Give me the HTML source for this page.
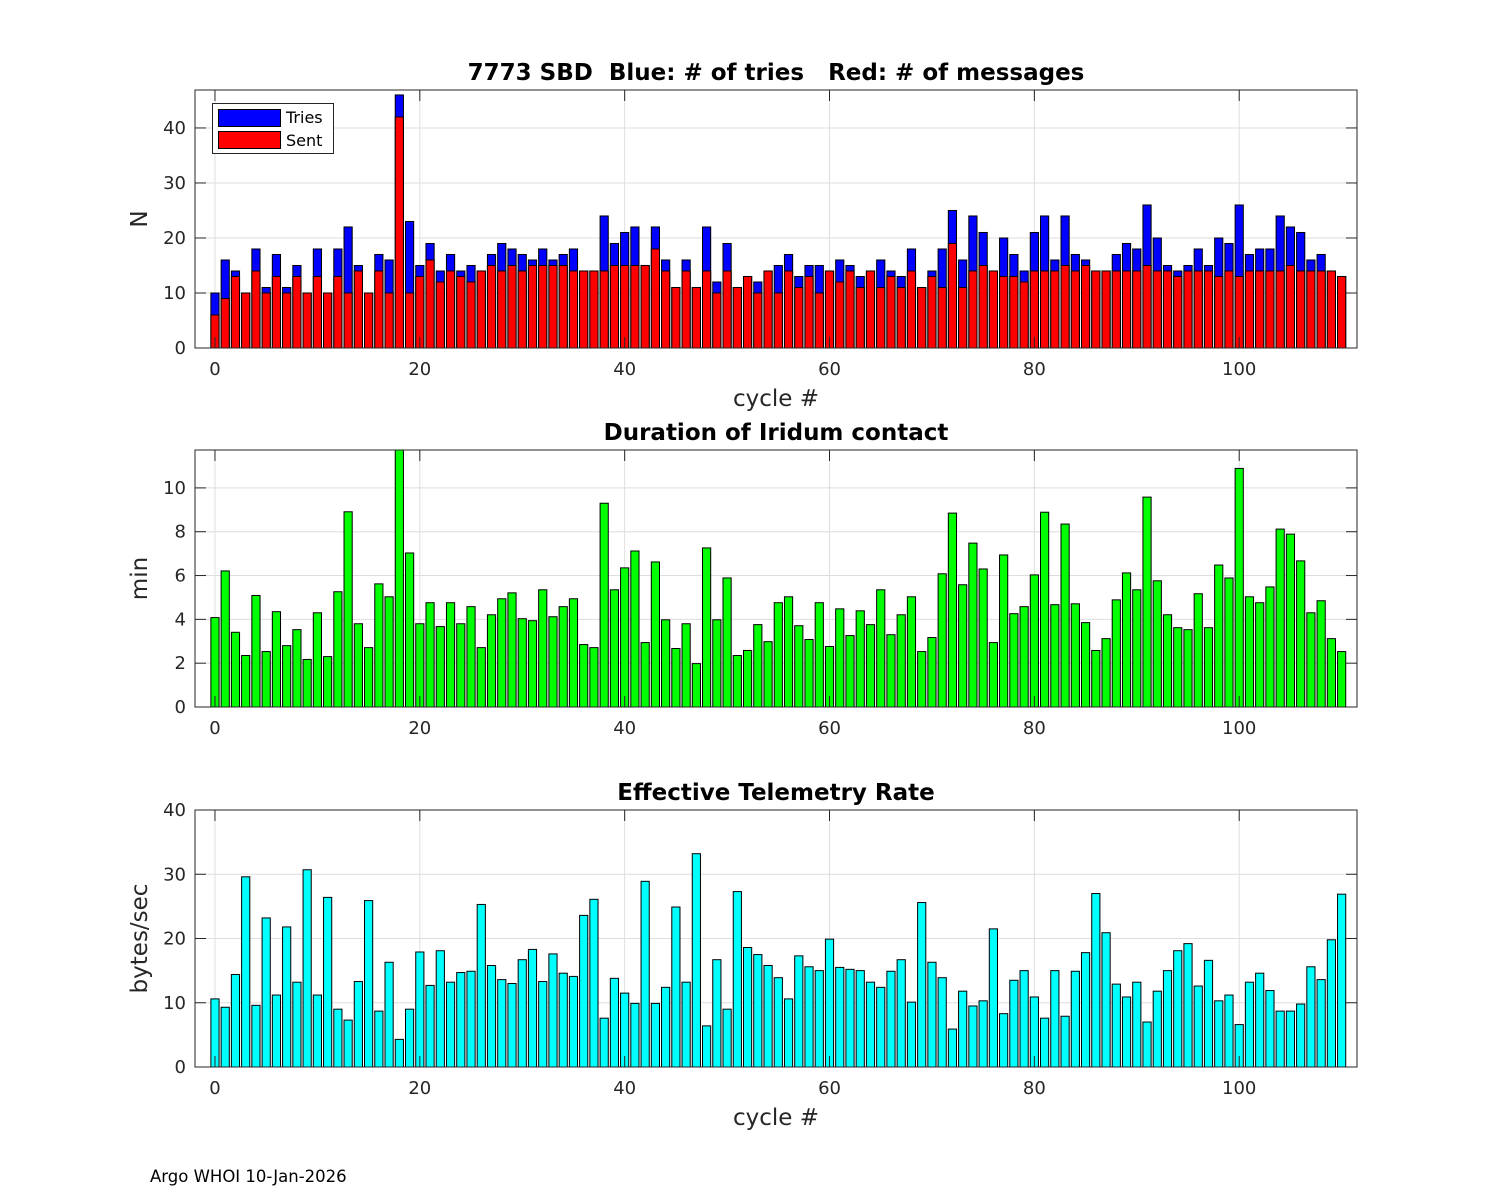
<!DOCTYPE html>
<html><head><meta charset="utf-8">
<style>
html,body{margin:0;padding:0;background:#fff;}
svg{display:block;font-family:"DejaVu Sans","Liberation Sans",sans-serif;}
</style></head>
<body>
<svg id="fig" width="1500" height="1200" viewBox="0 0 1500 1200" xmlns="http://www.w3.org/2000/svg">
<rect x="0" y="0" width="1500" height="1200" fill="#fff"/>
<text x="150" y="1182" font-size="16.5" fill="#000">Argo WHOI 10-Jan-2026</text>
</svg>
<script>
const tries = [10,16,14,10,18,11,17,11,15,10,18,10,18,22,15,10,17,16,46,23,15,19,14,17,14,15,14,17,19,18,17,16,18,16,17,18,14,14,24,19,21,22,15,22,16,11,16,11,22,12,19,11,13,12,14,15,17,13,15,15,14,16,15,13,14,16,14,13,18,11,14,18,25,16,24,21,14,20,17,14,21,24,16,24,17,16,14,14,17,19,18,26,20,15,14,15,18,15,20,19,26,17,18,18,24,22,21,16,17,14,13];
const sent = [6,9,13,10,14,10,13,10,13,10,13,10,13,10,14,10,14,10,42,10,13,16,12,14,13,12,14,15,14,15,14,15,15,15,15,14,14,14,14,15,15,15,15,18,14,11,14,11,14,10,14,11,13,10,14,10,14,11,13,10,14,12,14,11,14,11,13,11,14,11,13,11,19,11,14,15,14,13,13,12,14,14,14,15,14,15,14,14,14,14,14,15,14,14,13,14,14,14,13,14,13,14,14,14,14,15,14,14,14,14,13];
const duration = [4.08,6.21,3.41,2.35,5.09,2.53,4.35,2.80,3.53,2.17,4.30,2.30,5.26,8.91,3.80,2.71,5.62,5.03,12.2,7.03,3.80,4.76,3.67,4.76,3.80,4.58,2.71,4.21,4.94,5.21,4.03,3.94,5.35,4.12,4.58,4.94,2.85,2.71,9.30,5.35,6.35,7.12,2.94,6.62,3.98,2.67,3.80,1.98,7.26,3.98,5.89,2.35,2.58,3.76,2.98,4.76,5.03,3.71,3.08,4.76,2.76,4.48,3.26,4.39,3.76,5.35,3.30,4.21,5.03,2.53,3.17,6.08,8.85,5.58,7.48,6.30,2.94,6.94,4.26,4.58,6.03,8.89,4.67,8.35,4.71,3.85,2.58,3.12,4.89,6.12,5.35,9.58,5.76,4.21,3.62,3.53,5.17,3.62,6.48,5.89,10.89,5.03,4.76,5.48,8.12,7.89,6.67,4.30,4.85,3.12,2.53];
const rate = [10.6,9.3,14.4,29.6,9.6,23.2,11.2,21.8,13.2,30.7,11.2,26.4,9.0,7.3,13.3,25.9,8.7,16.3,4.3,9.0,17.9,12.7,18.1,13.2,14.7,14.9,25.3,15.8,13.6,13.0,16.7,18.3,13.3,17.6,14.6,14.1,23.6,26.1,7.6,13.8,11.5,9.9,28.9,9.9,12.4,24.9,13.2,33.2,6.4,16.7,9.0,27.3,18.6,17.5,15.8,13.9,10.6,17.3,15.6,15.0,19.9,15.5,15.2,15.0,13.2,12.4,14.9,16.7,10.1,25.6,16.3,13.9,5.9,11.8,9.5,10.3,21.5,8.3,13.5,15.0,10.9,7.6,15.0,7.9,14.9,17.8,27.0,20.9,12.9,10.9,13.2,7.0,11.8,15.0,18.1,19.2,12.6,16.6,10.3,11.2,6.6,13.2,14.6,11.9,8.7,8.7,9.8,15.6,13.6,19.8,26.9];
const xTicks = [0,20,40,60,80,100];
const yTicks1 = [0,10,20,30,40];
const yTicks2 = [0,2,4,6,8,10];
const yTicks3 = [0,10,20,30,40];

const NS = "http://www.w3.org/2000/svg";
const svg = document.getElementById('fig');
function mk(tag, attrs, parent){
  const e = document.createElementNS(NS, tag);
  for (const k in attrs) e.setAttribute(k, attrs[k]);
  (parent||svg).appendChild(e);
  return e;
}
const X0=195, X1=1357, XMIN=-1.95, XMAX=111.5;
function xs(v){ return X0 + (v-XMIN)/(XMAX-XMIN)*(X1-X0); }
const BW = 0.8;

function axes(key, top, bottom, ymax, yticks, title, ylabel, showXLabel){
  const ys = v => bottom - v/ymax*(bottom-top);
  const g = mk('g', {});
  
  
  xTicks.forEach(t=>{
    const l = mk('line',{x1:xs(t),x2:xs(t),y1:top,y2:bottom,stroke:'#dedede','stroke-width':1},g);
    
    
  });
  yticks.forEach(t=>{
    const l = mk('line',{x1:X0,x2:X1,y1:ys(t),y2:ys(t),stroke:'#dedede','stroke-width':1},g);
    
    
  });
  const cp = mk('clipPath',{id:'clip-'+key},g);
  mk('rect',{x:X0,y:top,width:X1-X0,height:bottom-top},cp);
  const bars = mk('g',{'clip-path':'url(#clip-'+key+')'},g);
  
  
  return {g, bars, ys, finish: function(){
    const box = mk('rect',{x:X0,y:top,width:X1-X0,height:bottom-top,fill:'none',stroke:'#262626','stroke-width':1},g);
    
    
    xTicks.forEach(t=>{
      mk('line',{x1:xs(t),x2:xs(t),y1:bottom,y2:bottom-11,stroke:'#262626'},g);
      mk('line',{x1:xs(t),x2:xs(t),y1:top,y2:top+11,stroke:'#262626'},g);
      const tx = mk('text',{x:xs(t),y:bottom+27,'font-size':18,'text-anchor':'middle',fill:'#262626'},g);
      tx.textContent = t;
      
      
    });
    yticks.forEach(t=>{
      mk('line',{x1:X0,x2:X0+11,y1:ys(t),y2:ys(t),stroke:'#262626'},g);
      mk('line',{x1:X1,x2:X1-11,y1:ys(t),y2:ys(t),stroke:'#262626'},g);
      const tx = mk('text',{x:X0-9,y:ys(t)+6,'font-size':18,'text-anchor':'end',fill:'#262626'},g);
      tx.textContent = t;
      
      
    });
    const tt = mk('text',{x:(X0+X1)/2,y:top-10,'font-size':23,'font-weight':'bold','text-anchor':'middle',fill:'#000'},g);
    tt.textContent = title;
    tt.setAttribute('xml:space','preserve');
    tt.style.whiteSpace='pre';
    
    
    const yl = mk('text',{x:0,y:0,'font-size':23,'text-anchor':'middle',fill:'#262626',transform:'translate(147,'+((top+bottom)/2)+') rotate(-90)'},g);
    yl.textContent = ylabel;
    
    
    if (showXLabel){
      const xl = mk('text',{x:(X0+X1)/2,y:bottom+58,'font-size':23,'text-anchor':'middle',fill:'#262626'},g);
      xl.textContent = 'cycle #';
      
      
    }
  }};
}
function bar(parent, i, v, ys, fill, name){
  const y = ys(v), y0 = ys(0);
  const r = mk('rect',{x:xs(i-BW/2),y:y,width:xs(i+BW/2)-xs(i-BW/2),height:Math.max(0,y0-y),fill:fill,stroke:'#000','stroke-width':1},parent);
  
  
}

const c1 = axes('tries', 90, 348, 46.9, yTicks1, '7773 SBD  Blue: # of tries   Red: # of messages', 'N', true);
tries.forEach((v,i)=>bar(c1.bars, i, v, c1.ys, '#0000ff', 'tries-bar'));
sent.forEach((v,i)=>bar(c1.bars, i, v, c1.ys, '#ff0000', 'sent-bar'));
c1.finish();
const lg = mk('g',{});


mk('rect',{x:212.5,y:103.5,width:121,height:50,fill:'#fff',stroke:'#262626'},lg);
mk('rect',{x:218.5,y:109.5,width:62,height:17,fill:'#0000ff',stroke:'#000'},lg);
mk('rect',{x:218.5,y:131.5,width:62,height:17,fill:'#ff0000',stroke:'#000'},lg);
const lt1 = mk('text',{x:286,y:123,'font-size':16,fill:'#000'},lg); lt1.textContent='Tries';


const lt2 = mk('text',{x:286,y:146,'font-size':16,fill:'#000'},lg); lt2.textContent='Sent';



const c2 = axes('duration', 450, 707, 11.73, yTicks2, 'Duration of Iridum contact', 'min', false);
duration.forEach((v,i)=>bar(c2.bars, i, v, c2.ys, '#00ff00', 'duration-bar'));
c2.finish();

const c3 = axes('rate', 810, 1067, 40, yTicks3, 'Effective Telemetry Rate', 'bytes/sec', true);
rate.forEach((v,i)=>bar(c3.bars, i, v, c3.ys, '#00ffff', 'rate-bar'));
c3.finish();
</script>
</body></html>
